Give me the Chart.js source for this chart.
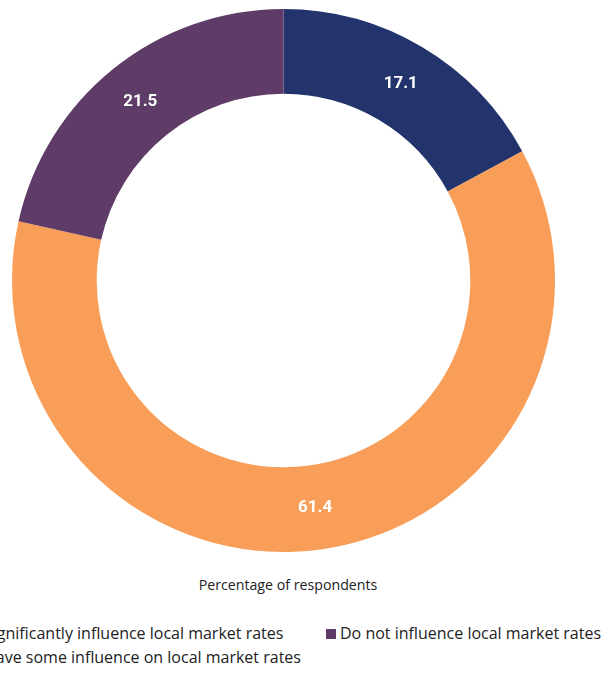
<!DOCTYPE html>
<html>
<head>
<meta charset="utf-8">
<script src="https://cdn.jsdelivr.net/npm/chart.js@4.4.1/dist/chart.umd.min.js"></script>
<style>
  html, body { margin: 0; padding: 0; background: #fff; }
  body { width: 605px; height: 673px; overflow: hidden; position: relative; font-family: "Open Sans", sans-serif; color: #222; }
  #wrap { position: absolute; left: 0; top: 0; width: 605px; height: 562px; }
  #title { position: absolute; top: 575px; left: 0; width: 576px; text-align: center; font-size: 14.2px; line-height: 20px; }
  .item { position: absolute; font-size: 16px; line-height: 20px; white-space: nowrap; }
  .item span.box { display: inline-block; width: 10px; height: 10px; margin-right: 4px; vertical-align: 0px; }
</style>
</head>
<body>
<div id="wrap"><canvas id="donut"></canvas></div>
<div id="title"></div>
<div id="legend"></div>
<script>
const categories = [
  'Significantly influence local market rates',
  'Have some influence on local market rates',
  'Do not influence local market rates'
];
const values = [17.1, 61.4, 21.5];
const colors = ['#23346c', '#f89e58', '#5f3c67'];
const axisTitle = 'Percentage of respondents';

// legend spots: column x, row y (the original picture is cut off on the left)
const legendSpots = [[-30, 623], [-30, 647], [326, 623]];

// white value labels in the middle of each ring slice
const sliceLabels = {
  id: 'sliceLabels',
  afterDatasetsDraw(chart) {
    const ctx = chart.ctx;
    const meta = chart.getDatasetMeta(0);
    ctx.save();
    ctx.fillStyle = '#fff';
    ctx.font = 'bold 17px Roboto';
    ctx.textAlign = 'center';
    ctx.textBaseline = 'middle';
    meta.data.forEach((arc, i) => {
      const p = arc.tooltipPosition();
      ctx.fillText(values[i].toFixed(1), p.x, p.y);
    });
    ctx.restore();
  }
};

const ctx = document.getElementById('donut').getContext('2d');
const donut = new Chart(ctx, {
  type: 'doughnut',
  data: {
    labels: categories,
    datasets: [{
      data: values,
      backgroundColor: colors,
      borderWidth: 0
    }]
  },
  options: {
    responsive: true,
    maintainAspectRatio: false,
    animation: false,
    cutout: '68.8%',
    layout: { padding: { left: 0, right: 38, top: 9, bottom: 10 } },
    plugins: {
      legend: { display: false },
      tooltip: { enabled: false }
    }
  },
  plugins: [sliceLabels]
});

// title and legend
document.getElementById('title').textContent = axisTitle;
const legend = document.getElementById('legend');
categories.forEach((name, i) => {
  const el = document.createElement('div');
  el.className = 'item';
  el.style.left = legendSpots[i][0] + 'px';
  el.style.top = legendSpots[i][1] + 'px';
  el.innerHTML = '<span class="box" style="background:' + colors[i] + '"></span>' + name;
  legend.appendChild(el);
});
</script>
</body>
</html>
